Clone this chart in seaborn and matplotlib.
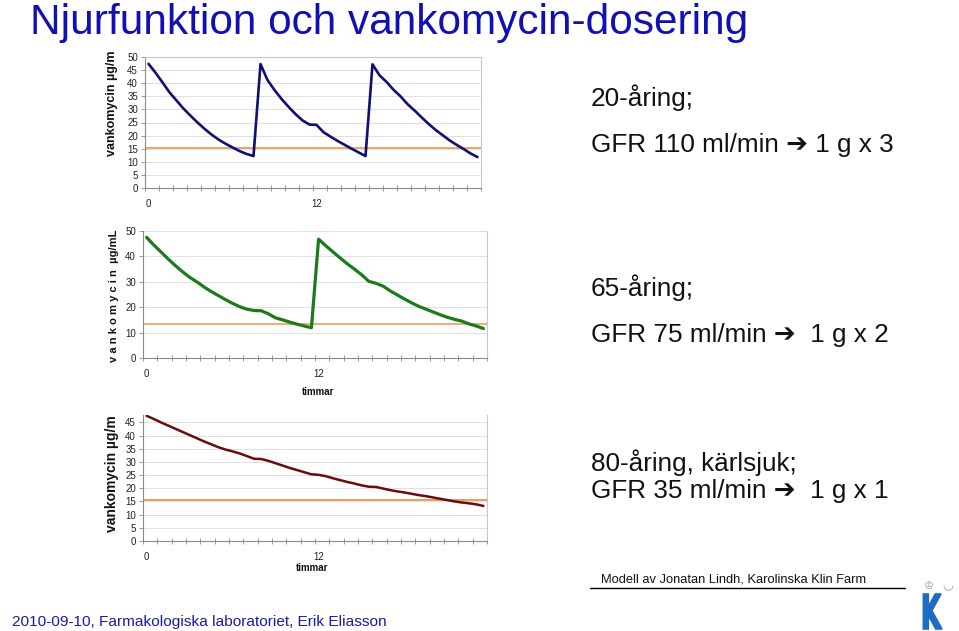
import numpy as np
import pandas as pd
import matplotlib
matplotlib.use("Agg")
import matplotlib.pyplot as plt
import seaborn as sns
from matplotlib.textpath import TextPath
from matplotlib.patches import PathPatch
from matplotlib.font_manager import FontProperties
import matplotlib.transforms as mtransforms

# ---------------- data ----------------
hours = [0.0, 0.5, 1.0, 1.5, 2.0, 2.5, 3.0, 3.5, 4.0, 4.5, 5.0, 5.5,
         6.0, 6.5, 7.0, 7.5, 8.0, 8.5, 9.0, 9.5, 10.0, 10.5, 11.0, 11.5,
         12.0, 12.5, 13.0, 13.5, 14.0, 14.5, 15.0, 15.5, 16.0, 16.5, 17.0, 17.5,
         18.0, 18.5, 19.0, 19.5, 20.0, 20.5, 21.0, 21.5, 22.0, 22.5, 23.0, 23.5]

conc_20 = [47.4, 44.0, 40.3, 36.5, 33.4, 30.3, 27.6, 25.0, 22.6, 20.4, 18.5, 16.9,
           15.5, 14.1, 13.0, 12.2, 47.3, 41.2, 37.4, 34.0, 31.0, 28.2, 25.8, 24.2,
           24.1, 21.3, 19.6, 18.0, 16.5, 15.0, 13.6, 12.2, 47.2, 43.0, 40.5, 37.5,
           35.0, 32.0, 29.6, 27.0, 24.5, 22.2, 20.2, 18.2, 16.5, 14.9, 13.2, 11.8]

conc_65 = [47.5, 44.5, 41.8, 39.0, 36.4, 34.0, 31.8, 30.0, 28.0, 26.2, 24.6, 23.0,
           21.5, 20.2, 19.2, 18.7, 18.6, 17.4, 15.8, 15.0, 14.1, 13.3, 12.6, 11.9,
           46.8, 44.2, 41.8, 39.4, 37.1, 35.0, 32.8, 30.2, 29.4, 28.3, 26.4, 24.8,
           23.2, 21.7, 20.3, 19.2, 18.1, 17.0, 16.0, 15.2, 14.5, 13.4, 12.6, 11.6]

conc_80 = [47.5, 46.3, 45.0, 43.8, 42.6, 41.4, 40.2, 39.0, 37.8, 36.7, 35.6, 34.7,
           34.0, 33.2, 32.2, 31.2, 31.1, 30.4, 29.5, 28.6, 27.7, 26.9, 26.1, 25.3,
           25.1, 24.6, 23.8, 23.1, 22.4, 21.8, 21.1, 20.6, 20.5, 19.9, 19.3, 18.8,
           18.4, 17.9, 17.4, 17.0, 16.5, 16.0, 15.5, 15.0, 14.6, 14.3, 13.9, 13.3]

target_20 = 15.1
target_65 = 13.3
target_80 = 15.5

x_label_pos = [0, 12]
x_labels = ["0", "12"]
y_ticks_20 = [0, 5, 10, 15, 20, 25, 30, 35, 40, 45, 50]
y_ticks_65 = [0, 10, 20, 30, 40, 50]
y_ticks_80 = [0, 5, 10, 15, 20, 25, 30, 35, 40, 45]

# ---------------- figure ----------------
sns.set_theme(style="white")
plt.rcParams['font.family'] = ['Liberation Sans', 'DejaVu Sans']

W, H = 959, 631
fig = plt.figure(figsize=(W / 100, H / 100), dpi=100)
fig.patch.set_facecolor("white")


def px_axes(l, t, r, b):
    return fig.add_axes([l / W, 1 - b / H, (r - l) / W, (b - t) / H])


def ftext(x, y, s, **kw):
    return fig.text(x / W, 1 - y / H, s, **kw)


df = pd.DataFrame({"timmar": hours, "c20": conc_20, "c65": conc_65, "c80": conc_80})

ORANGE = "#EE9450"
GRID = "#dadada"
AXC = "#8a8a8a"


def style_axes(ax, yticks, ylim, right=True, top=True):
    ax.set_xlim(-0.25, 23.75)
    ax.set_ylim(*ylim)
    ax.set_yticks(yticks)
    ax.set_xticks(x_label_pos)
    ax.set_xticklabels(x_labels)
    ax.set_xticks(np.arange(-0.25, 23.8, 1.0), minor=True)
    ax.yaxis.grid(True, color=GRID, lw=0.6)
    ax.xaxis.grid(False)
    ax.set_axisbelow(True)
    for s in ["left", "bottom"]:
        ax.spines[s].set_color(AXC)
        ax.spines[s].set_linewidth(0.8)
    ax.spines["right"].set_visible(right)
    ax.spines["top"].set_visible(top)
    ax.spines["right"].set_color("#c8c8c8")
    ax.spines["top"].set_color("#c8c8c8")
    ax.spines["right"].set_linewidth(0.8)
    ax.spines["top"].set_linewidth(0.8)
    ax.tick_params(axis="y", length=3, width=0.6, color=AXC, pad=2,
                   labelsize=7, labelcolor="#222222", left=True)
    ax.tick_params(axis="x", which="major", length=0, pad=8,
                   labelsize=7, labelcolor="#222222")
    ax.tick_params(axis="x", which="minor", length=4, width=0.6, color=AXC,
                   direction="inout", bottom=True)
    ax.set_xlabel("")
    ax.set_ylabel("")


# top chart
ax1 = px_axes(145, 57, 481, 188)
ax1.axhline(target_20, color=ORANGE, lw=1.2, zorder=2)
sns.lineplot(data=df, x="timmar", y="c20", ax=ax1, color="#101070", lw=1.9, zorder=3)
style_axes(ax1, y_ticks_20, (0, 50))

# middle chart
ax2 = px_axes(143, 231, 487, 358)
ax2.axhline(target_65, color=ORANGE, lw=1.1, zorder=2)
sns.lineplot(data=df, x="timmar", y="c65", ax=ax2, color="#1b7a1b", lw=2.3, zorder=3)
style_axes(ax2, y_ticks_65, (0, 50), top=False)

# bottom chart
ax3 = px_axes(143, 415, 487, 541)
ax3.axhline(target_80, color=ORANGE, lw=1.3, zorder=2)
sns.lineplot(data=df, x="timmar", y="c80", ax=ax3, color="#6a0c0c", lw=1.8, zorder=3)
style_axes(ax3, y_ticks_80, (0, 47.8), top=False)

# axis labels
ftext(112, 103, "vankomycin µg/m", rotation=90, ha="center", va="center",
      fontsize=9, fontweight="bold", color="#111111")
ftext(114, 296, "v a n k o m y c i n  µg/mL", rotation=90, ha="center", va="center",
      fontsize=8, fontweight="bold", color="#111111")
ftext(112, 474, "vankomycin µg/m", rotation=90, ha="center", va="center",
      fontsize=10, fontweight="bold", color="#111111")
ftext(318, 392, "timmar", ha="center", va="center", fontsize=7,
      fontweight="bold", color="#111111")
ftext(312, 568, "timmar", ha="center", va="center", fontsize=7,
      fontweight="bold", color="#111111")

# title
ftext(30, 34, "Njurfunktion och vankomycin-dosering", ha="left", va="baseline",
      fontsize=30.5, color="#1010b4")

# right side texts
TXT = dict(ha="left", va="baseline", fontsize=18.8, color="#111111")
ftext(591, 106, "20-åring;", **TXT)
ftext(591, 152, "GFR 110 ml/min \u2794 1 g x 3", **TXT)
ftext(591, 296, "65-åring;", **TXT)
ftext(591, 342, "GFR 75 ml/min \u2794  1 g x 2", **TXT)
ftext(591, 471, "80-åring, kärlsjuk;", **TXT)
ftext(591, 498, "GFR 35 ml/min \u2794  1 g x 1", **TXT)

# footer
ftext(601, 583, "Modell av Jonatan Lindh, Karolinska Klin Farm", ha="left",
      va="baseline", fontsize=9.25, color="#111111")
fig.add_artist(plt.Line2D([590 / W, 905 / W], [1 - 588 / H, 1 - 588 / H],
                          color="black", lw=1.0))
ftext(12, 626, "2010-09-10, Farmakologiska laboratoriet, Erik Eliasson",
      ha="left", va="baseline", fontsize=11.1, color="#1a1aa8")

# logo
T_px = mtransforms.Affine2D().scale(1 / W, 1 / H) + fig.transFigure
kpath = TextPath((0, 0), "K", size=1,
                 prop=FontProperties(family="DejaVu Sans", weight="bold"))
ktrans = mtransforms.Affine2D().scale(26, 48).translate(921, H - 629) + T_px
fig.add_artist(PathPatch(kpath, transform=ktrans, facecolor="#1e6cc4",
                         edgecolor="#1e6cc4", lw=1.2))
ftext(929, 589, "\u2654", ha="center", va="baseline", fontsize=8,
      color="#9a9a9a", family=["DejaVu Sans"])
ftext(948, 589, "\u25E1", ha="center", va="baseline", fontsize=9,
      color="#9a9a9a", family=["DejaVu Sans"])

fig.savefig("out.png", dpi=100, facecolor="white")
